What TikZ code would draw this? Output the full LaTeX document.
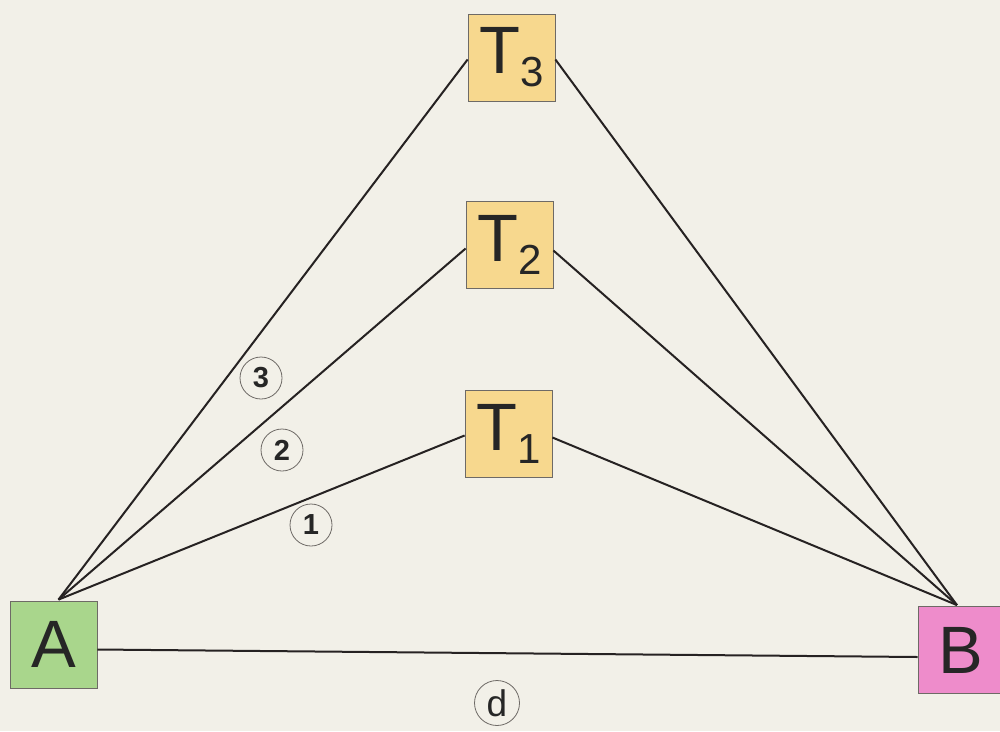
\documentclass[tikz,border=0pt]{standalone}
\usepackage{fontspec}
\setmainfont{Liberation Sans}
\definecolor{bgc}{HTML}{F2F0E8}
\definecolor{tfill}{HTML}{F7D88E}
\definecolor{afill}{HTML}{A9D68C}
\definecolor{bfill}{HTML}{EE8CCB}
\definecolor{edgec}{HTML}{6E6A66}
\definecolor{linec}{HTML}{262222}
\newcommand{\tlab}[1]{T\raisebox{-13pt}{\fontsize{42}{42}\selectfont #1}}
\begin{document}
\begin{tikzpicture}[x=1pt,y=-1pt,
  box/.style={draw=edgec,line width=0.8pt,minimum width=87pt,minimum height=87pt,inner sep=0pt,text=black!85,font=\fontsize{67}{67}\selectfont},
  tbox/.style={box,fill=tfill},
  conn/.style={draw=linec,line width=2pt},
  clab/.style={circle,draw=edgec,line width=0.8pt,minimum size=42pt,inner sep=0pt,font=\fontsize{29}{29}\selectfont\bfseries,text=black!85}]
\useasboundingbox (0,0) rectangle (1000,731);
\fill[bgc] (0,0) rectangle (1000,731);
\node[box,fill=afill] (A) at (53.5,644.5) {A};
\node[box,fill=bfill,minimum width=86pt] (B) at (961,650) {B};
\node[tbox] (T3) at (511.5,57.5) {\tlab{3}};
\node[tbox] (T2) at (509.5,244.5) {\tlab{2}};
\node[tbox] (T1) at (508.5,433.5) {\tlab{1}};
\coordinate (pa) at ([xshift=5pt,yshift=1pt]A.north);
\coordinate (pb) at ([xshift=-4pt,yshift=1pt]B.north);
\draw[conn] (pa) -- ([yshift=-2pt]T3.west);
\draw[conn] (pa) -- ([yshift=-4pt]T2.west);
\draw[conn] (pa) -- ([yshift=-2pt]T1.west);
\draw[conn] (pb) -- ([yshift=-2pt]T3.east);
\draw[conn] (pb) -- ([yshift=-6pt]T2.east);
\draw[conn] (pb) -- ([yshift=-4pt]T1.east);
\draw[conn] ([yshift=-5pt]A.east) -- ([yshift=-7pt]B.west);
\node[clab] (c3) at (261,378) {3};
\node[clab] (c2) at (282,450) {2};
\node[clab] (c1) at (311,525) {1};
\node[clab,minimum size=45pt,font=\fontsize{37}{37}\selectfont] (cd) at (497,703) {d};
\end{tikzpicture}
\end{document}
